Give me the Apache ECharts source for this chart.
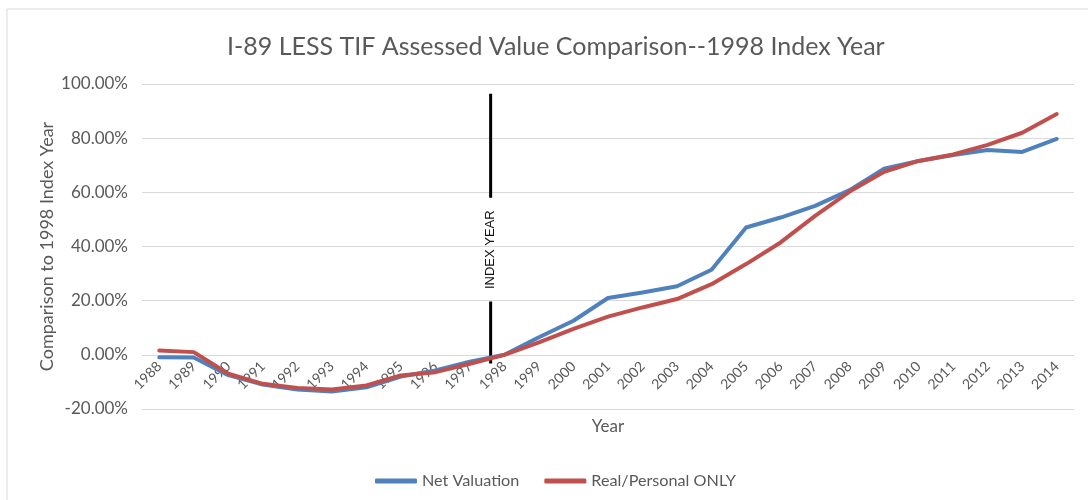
<!DOCTYPE html>
<html>
<head>
<meta charset="utf-8">
<title>I-89 LESS TIF Assessed Value Comparison</title>
<script src="https://cdn.jsdelivr.net/npm/echarts@6/dist/echarts.min.js"></script>
<style>
  html, body { margin: 0; padding: 0; background: #fff; }
  #chart { width: 1088px; height: 500px; }
</style>
</head>
<body>
<div id="chart"></div>
<script>
  // years on the category axis
  var years = ['1988', '1989', '1990', '1991', '1992', '1993', '1994', '1995', '1996', '1997',
    '1998', '1999', '2000', '2001', '2002', '2003', '2004', '2005', '2006', '2007',
    '2008', '2009', '2010', '2011', '2012', '2013', '2014']

  // percent change vs 1998
  var netValuation = [-0.9, -1.0, -7.5, -11.0, -12.8, -13.5, -12.0, -8.0, -5.8, -2.5,
    0, 6.5, 12.6, 21.0, 23.0, 25.3, 31.4, 47.0, 50.7, 55.0,
    60.8, 68.7, 71.6, 73.8, 75.6, 74.9, 79.7]
  var realPersonal = [1.6, 1.0, -7.0, -10.7, -12.2, -12.8, -11.3, -7.6, -6.4, -3.3,
    0, 4.6, 9.6, 14.1, 17.5, 20.6, 26.1, 33.5, 41.5, 51.3,
    60.3, 67.6, 71.6, 74.0, 77.5, 82.0, 88.9]

  var yTicks = [-20, 0, 20, 40, 60, 80, 100]

  // the hand-drawn "INDEX YEAR" marker (category units / percent)
  var indexAt = 9.6
  var indexLine = [[indexAt, 96.4], [indexAt, 58], [indexAt, '-'], [indexAt, 19.7], [indexAt, -3.2]]
  var indexLabelAt = 38.8

  var grey = '#595959'
  var font = 'Lato, "Open Sans", sans-serif'

  var chart = echarts.init(document.getElementById('chart'))
  chart.setOption({
    animation: false,
    textStyle: { fontFamily: font },
    title: {
      text: 'I-89 LESS TIF Assessed Value Comparison--1998 Index Year',
      left: 222,
      top: 29,
      textStyle: { fontSize: 25, fontWeight: 'normal', color: grey, fontFamily: font }
    },
    graphic: [{
      type: 'rect',
      shape: { x: 7, y: 9, width: 1200, height: 600 },
      style: { fill: 'none', stroke: '#d9d9d9', lineWidth: 1 },
      silent: true
    }],
    legend: {
      data: ['Net Valuation', 'Real/Personal ONLY'],
      left: 370,
      top: 468,
      icon: 'roundRect',
      itemWidth: 42,
      itemHeight: 5,
      itemGap: 25,
      textStyle: { fontSize: 16.2, color: grey, fontFamily: font }
    },
    grid: { left: 142, right: 14, top: 84, bottom: 91 },
    xAxis: [{
      type: 'category',
      data: years,
      boundaryGap: true,
      name: 'Year',
      nameLocation: 'middle',
      nameGap: 9,
      nameMoveOverlap: false,
      nameTextStyle: { fontSize: 17, color: grey },
      axisTick: { show: false },
      axisLine: { onZero: false, lineStyle: { color: '#d9d9d9' } },
      // labels hang just under the 0% line, as in the source chart
      axisLabel: { rotate: 45, interval: 0, fontSize: 14, color: grey, margin: -45 }
    }, {
      type: 'value',
      min: -0.5,
      max: 26.5,
      show: false,
      axisLine: { onZero: false }
    }],
    yAxis: {
      type: 'value',
      min: yTicks[0],
      max: yTicks[yTicks.length - 1],
      interval: 20,
      name: 'Comparison to 1998 Index Year',
      nameLocation: 'middle',
      nameGap: 86,
      nameMoveOverlap: false,
      nameTextStyle: { fontSize: 18, color: grey },
      axisLine: { show: false, onZero: false },
      axisTick: { show: false },
      splitLine: { lineStyle: { color: '#d9d9d9', width: 1 } },
      axisLabel: {
        fontSize: 17,
        color: grey,
        margin: 14,
        formatter: function (v) { return v.toFixed(2) + '%' }
      }
    },
    series: [
      {
        name: 'Net Valuation',
        type: 'line',
        data: netValuation,
        showSymbol: false,
        symbol: 'none',
        color: '#4f81bd',
        lineStyle: { width: 4, color: '#4f81bd', cap: 'round', join: 'round' }
      },
      {
        name: 'Real/Personal ONLY',
        type: 'line',
        data: realPersonal,
        showSymbol: false,
        symbol: 'none',
        color: '#c0504d',
        lineStyle: { width: 4, color: '#c0504d', cap: 'round', join: 'round' }
      },
      {
        name: 'Index',
        type: 'line',
        xAxisIndex: 1,
        data: indexLine,
        connectNulls: false,
        showSymbol: false,
        symbol: 'none',
        z: 1,
        lineStyle: { width: 3, color: '#000' },
        markPoint: {
          symbol: 'rect',
          symbolSize: 0,
          data: [{ coord: [indexAt, indexLabelAt] }],
          label: {
            show: true,
            formatter: 'INDEX YEAR',
            rotate: 90,
            position: 'inside',
            fontSize: 13,
            color: '#111',
            fontFamily: '"Liberation Sans", Arial, sans-serif'
          }
        }
      }
    ]
  })
</script>
</body>
</html>
